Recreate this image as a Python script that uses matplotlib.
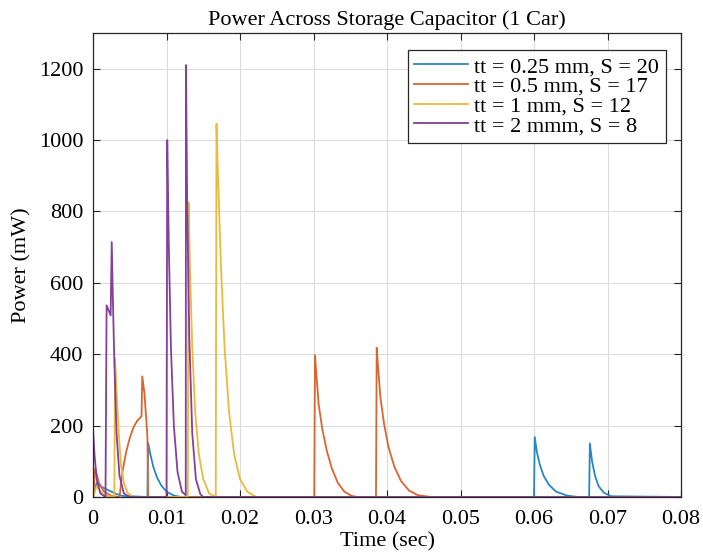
import matplotlib
matplotlib.use("Agg")
import matplotlib.pyplot as plt

# values (time in s, power in mW)
t_025 = [0, 0.0005, 0.001, 0.0015, 0.002, 0.003, 0.004, 0.0074, 0.0075, 0.0078, 0.0082,
         0.0087, 0.0093, 0.010, 0.011, 0.012, 0.0600, 0.0601, 0.0604, 0.0608, 0.0613,
         0.0620, 0.0630, 0.0645, 0.066, 0.0675, 0.0676, 0.0679, 0.0683, 0.0688, 0.0695,
         0.0705, 0.08]
p_025 = [0, 40, 30, 25, 20, 10, 3, 0, 152, 120, 85,
         55, 32, 15, 4, 0, 0, 168, 125, 90, 60,
         35, 15, 4, 0, 0, 150, 100, 60, 30, 12,
         2, 0]

t_05 = [0, 0.0003, 0.0008, 0.0015, 0.0025, 0.0036, 0.0040, 0.0045, 0.0050, 0.0055, 0.0060,
        0.0064, 0.0066, 0.0067, 0.0070, 0.0074, 0.0075, 0.0301, 0.0302, 0.0304, 0.0307,
        0.0312, 0.0318, 0.0325, 0.0333, 0.0342, 0.0352, 0.036, 0.0385, 0.0386, 0.0388,
        0.0391, 0.0396, 0.0402, 0.0410, 0.0419, 0.0430, 0.0442, 0.046, 0.08]
p_05 = [0, 80, 40, 15, 3, 0, 70, 125, 165, 195, 213,
        222, 226, 338, 290, 170, 0, 0, 397, 340, 260,
        190, 130, 80, 40, 15, 3, 0, 0, 418, 360,
        280, 205, 140, 85, 45, 18, 5, 0, 0]

t_1 = [0, 0.0005, 0.0015, 0.0029, 0.0030, 0.0032, 0.0035, 0.0038, 0.0042, 0.0047, 0.0055,
       0.0129, 0.0130, 0.0132, 0.0135, 0.0139, 0.0144, 0.0150, 0.0158, 0.0167, 0.0168,
       0.0170, 0.0174, 0.0179, 0.0185, 0.0192, 0.0200, 0.0210, 0.0222, 0.08]
p_1 = [0, 30, 5, 0, 387, 300, 180, 90, 40, 12, 0,
       0, 825, 640, 420, 240, 120, 50, 10, 0, 1046,
       900, 650, 420, 240, 120, 50, 15, 0, 0]

t_2 = [0, 0.0002, 0.0005, 0.001, 0.0017, 0.00185, 0.0024, 0.00255, 0.0027, 0.0029, 0.0032,
       0.0036, 0.0042, 0.005, 0.0100, 0.0101, 0.0103, 0.0106, 0.0110, 0.0115, 0.0121,
       0.01262, 0.01265, 0.0128, 0.0131, 0.0135, 0.0140, 0.0146, 0.015, 0.08]
p_2 = [190, 120, 50, 10, 0, 537, 509, 714, 560, 380, 180,
       60, 10, 0, 0, 1000, 720, 420, 200, 70, 15,
       5, 1210, 850, 450, 180, 50, 8, 0, 0]

labels = ["tt = 0.25 mm, S = 20", "tt = 0.5 mm, S = 17", "tt = 1 mm, S = 12", "tt = 2 mmm, S = 8"]
colors = ["#2a86c3", "#db6530", "#ecb93c", "#84409a"]

plt.rcParams["font.family"] = ["Liberation Serif", "DejaVu Serif"]
plt.rcParams["font.size"] = 16

fig = plt.figure(figsize=(7.03, 5.59), dpi=100)
ax = fig.add_axes([93 / 703, 1 - 497 / 559, 588 / 703, 464 / 559])

series = [(t_025, p_025), (t_05, p_05), (t_1, p_1), (t_2, p_2)]
for (t, p), lab, c in zip(series, labels, colors):
    ax.plot(t, p, color=c, lw=1.3, label=lab)

ax.set_xlim(0, 0.08)
ax.set_ylim(0, 1300)
ax.set_xticks([0, 0.01, 0.02, 0.03, 0.04, 0.05, 0.06, 0.07, 0.08])
ax.set_xticklabels(["0", "0.01", "0.02", "0.03", "0.04", "0.05", "0.06", "0.07", "0.08"])
ax.set_yticks([0, 200, 400, 600, 800, 1000, 1200])
ax.grid(True, color="#dcdcdc", lw=0.8)
ax.set_axisbelow(True)
ax.tick_params(direction="in", top=True, right=True, length=5, width=0.8,
               color="#262626")
ax.tick_params(axis="x", pad=9)
ax.tick_params(axis="y", pad=7)
for s in ax.spines.values():
    s.set_color("#262626")
    s.set_linewidth(0.9)

ax.set_title("Power Across Storage Capacitor (1 Car)", fontsize=16, pad=6)
ax.set_xlabel("Time (sec)", labelpad=3)
ax.set_ylabel("Power (mW)", labelpad=5)

leg = ax.legend(loc="upper right", bbox_to_anchor=(666 / 703, 1 - 50 / 559),
                bbox_transform=fig.transFigure, borderaxespad=0, fancybox=False,
                framealpha=1, edgecolor="#262626", handlelength=2.4,
                handletextpad=0.3, labelspacing=-0.04, borderpad=0.3, fontsize=16)
leg.get_frame().set_linewidth(0.9)

fig.savefig("out.png", dpi=100)
